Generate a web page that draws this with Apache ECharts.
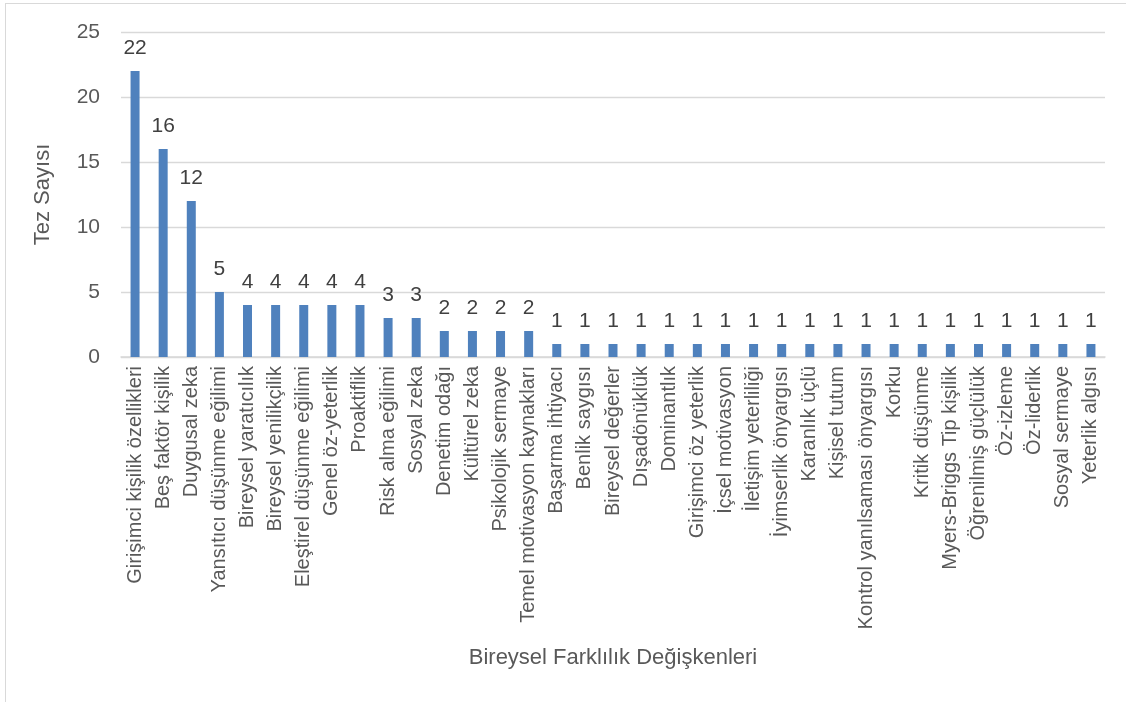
<!DOCTYPE html>
<html><head><meta charset="utf-8">
<script src="https://cdn.jsdelivr.net/npm/echarts@6/dist/echarts.min.js"></script>
<style>html,body{margin:0;padding:0;background:#fff}#c{position:absolute;left:5px;top:3px;width:1121px;height:699px;border:1px solid #d9d9d9;border-right:none;border-bottom:none;box-sizing:border-box}#m{position:absolute;left:0;top:0;width:1126px;height:702px}</style>
</head><body><div id="c"></div><div id="m"></div>
<script>
const categories = ["Girişimci kişilik özellikleri","Beş faktör kişilik","Duygusal zeka","Yansıtıcı düşünme eğilimi","Bireysel yaratıcılık","Bireysel yenilikçilik","Eleştirel düşünme eğilimi","Genel öz-yeterlik","Proaktiflik","Risk alma eğilimi","Sosyal zeka","Denetim odağı","Kültürel zeka","Psikolojik sermaye","Temel motivasyon kaynakları","Başarma ihtiyacı","Benlik saygısı","Bireysel değerler","Dışadönüklük","Dominantlık","Girişimci öz yeterlik","İçsel motivasyon","İletişim yeterliliği","İyimserlik önyargısı","Karanlık üçlü","Kişisel tutum","Kontrol yanılsaması önyargısı","Korku","Kritik düşünme","Myers-Briggs Tip kişilik","Öğrenilmiş güçlülük","Öz-izleme","Öz-liderlik","Sosyal sermaye","Yeterlik algısı"];
const values = [22,16,12,5,4,4,4,4,4,3,3,2,2,2,2,1,1,1,1,1,1,1,1,1,1,1,1,1,1,1,1,1,1,1,1];
const yTicks = {min:0, max:25, interval:5};
const font = "Arial, 'Liberation Sans', sans-serif";
const chart = echarts.init(document.getElementById('m'));
chart.setOption({
  animation:false,
  textStyle:{fontFamily:font},
  grid:{left:121,right:21,top:32,bottom:345},
  xAxis:{type:'category',data:categories,
    name:'Bireysel Farklılık Değişkenleri',nameLocation:'middle',nameGap:290,
    nameTextStyle:{fontSize:22,color:'#595959',fontFamily:font},
    axisLine:{lineStyle:{color:'#d9d9d9',width:1.5}},axisTick:{show:false},
    axisLabel:{rotate:90,interval:0,fontSize:20,color:'#595959',margin:9,fontFamily:font}},
  yAxis:{type:'value',min:yTicks.min,max:yTicks.max,interval:yTicks.interval,
    name:'Tez Sayısı',nameLocation:'middle',nameGap:67,
    nameTextStyle:{fontSize:22,color:'#595959',fontFamily:font},
    axisLine:{show:false},axisTick:{show:false},
    axisLabel:{fontSize:21,color:'#595959',margin:21,fontFamily:font},
    splitLine:{lineStyle:{color:'#d9d9d9',width:1.3}}},
  series:[{type:'bar',data:values,barWidth:9,itemStyle:{color:'#4f81bd'},
    label:{show:true,position:'top',distance:12,fontSize:21,color:'#404040',fontFamily:font}}]
});
</script></body></html>
